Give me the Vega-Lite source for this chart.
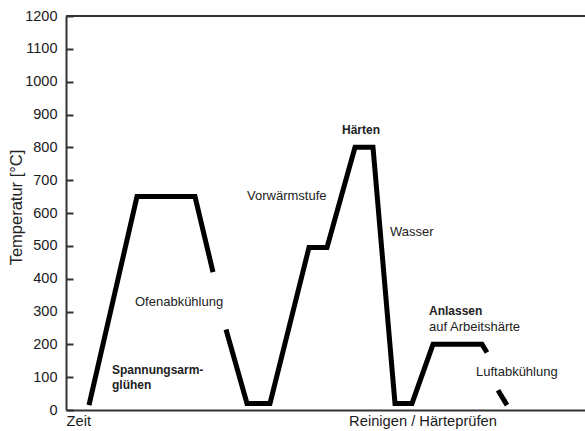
{
  "$schema": "https://vega.github.io/schema/vega-lite/v6.json",
  "width": 519,
  "height": 394,
  "autosize": "none",
  "padding": {"left": 66, "top": 16, "right": 0, "bottom": 21},
  "background": "white",
  "config": {"view": {"stroke": null}},
  "datasets": {
    "frame": [{"t": 0, "t2": 519, "temp": 1200}],
    "profile": [
      {"seg": "A", "t": 23, "temp": 15},
      {"seg": "A", "t": 71, "temp": 650},
      {"seg": "A", "t": 129, "temp": 650},
      {"seg": "A", "t": 147, "temp": 420},
      {"seg": "B", "t": 160, "temp": 245},
      {"seg": "B", "t": 181, "temp": 20},
      {"seg": "B", "t": 204, "temp": 20},
      {"seg": "B", "t": 243, "temp": 495},
      {"seg": "B", "t": 261, "temp": 495},
      {"seg": "B", "t": 289, "temp": 800},
      {"seg": "B", "t": 307, "temp": 800},
      {"seg": "B", "t": 329, "temp": 20},
      {"seg": "B", "t": 346, "temp": 20},
      {"seg": "B", "t": 367, "temp": 200},
      {"seg": "B", "t": 416, "temp": 200},
      {"seg": "B", "t": 421, "temp": 175},
      {"seg": "C", "t": 432, "temp": 60},
      {"seg": "C", "t": 441, "temp": 15}
    ],
    "labels": [
      {"t": 69, "temp": 329, "label": "Ofenabkühlung"},
      {"t": 181, "temp": 652, "label": "Vorwärmstufe"},
      {"t": 324, "temp": 542, "label": "Wasser"},
      {"t": 363, "temp": 253, "label": "auf Arbeitshärte"},
      {"t": 410, "temp": 116, "label": "Luftabkühlung"}
    ],
    "bold_labels": [
      {"t": 46, "temp": 122, "label": "Spannungsarm-"},
      {"t": 46, "temp": 76, "label": "glühen"},
      {"t": 276, "temp": 853, "label": "Härten"},
      {"t": 363, "temp": 302, "label": "Anlassen"}
    ]
  },
  "encoding": {
    "x": {
      "field": "t", "type": "quantitative",
      "scale": {"domain": [0, 519], "nice": false, "zero": false},
      "axis": {
        "title": null,
        "values": [0, 356.5],
        "labelExpr": "datum.value == 0 ? 'Zeit' : 'Reinigen / Härteprüfen'",
        "labelAlign": {"condition": {"test": "datum.value == 0", "value": "left"}, "value": "center"},
        "labelBaseline": "top",
        "ticks": false,
        "grid": false,
        "labelPadding": 3,
        "labelFlush": false,
        "labelOverlap": false,
        "labelBound": false,
        "labelFont": "Liberation Sans, sans-serif",
        "labelFontSize": 14.7,
        "labelColor": "#1a1a1a",
        "domainColor": "#333333",
        "domainWidth": 2
      }
    },
    "y": {
      "field": "temp", "type": "quantitative",
      "scale": {"domain": [0, 1200], "nice": false, "zero": true},
      "axis": {
        "title": "Temperatur [°C]",
        "values": [0, 100, 200, 300, 400, 500, 600, 700, 800, 900, 1000, 1100, 1200],
        "format": "d",
        "grid": false,
        "tickSize": -7,
        "tickWidth": 2,
        "tickColor": "#333333",
        "domainColor": "#333333",
        "domainWidth": 2,
        "labelPadding": 16,
        "labelFont": "Liberation Sans, sans-serif",
        "labelFontSize": 14.5,
        "labelColor": "#1a1a1a",
        "labelFlush": false,
        "labelOverlap": false,
        "titleFont": "Liberation Sans, sans-serif",
        "titleFontSize": 16.5,
        "titleFontWeight": "normal",
        "titleColor": "#222222",
        "titleX": -44.5,
        "titleY": 191,
        "titleAlign": "center",
        "titleBaseline": "alphabetic"
      }
    }
  },
  "layer": [
    {
      "data": {"name": "profile"},
      "mark": {"type": "line", "color": "black", "strokeWidth": 5, "strokeJoin": "miter", "strokeCap": "butt"},
      "encoding": {
        "detail": {"field": "seg"}
      }
    },
    {
      "data": {"name": "frame"},
      "mark": {"type": "rule", "color": "#333333", "strokeWidth": 2},
      "encoding": {
        "x2": {"field": "t2"}
      }
    },
    {
      "data": {"name": "labels"},
      "mark": {"type": "text", "align": "left", "baseline": "middle", "font": "Liberation Sans, sans-serif", "fontSize": 13, "color": "#222222"},
      "encoding": {
        "text": {"field": "label"}
      }
    },
    {
      "data": {"name": "bold_labels"},
      "mark": {"type": "text", "align": "left", "baseline": "middle", "font": "Liberation Sans, sans-serif", "fontSize": 12, "fontWeight": "bold", "color": "#222222"},
      "encoding": {
        "text": {"field": "label"}
      }
    }
  ]
}
